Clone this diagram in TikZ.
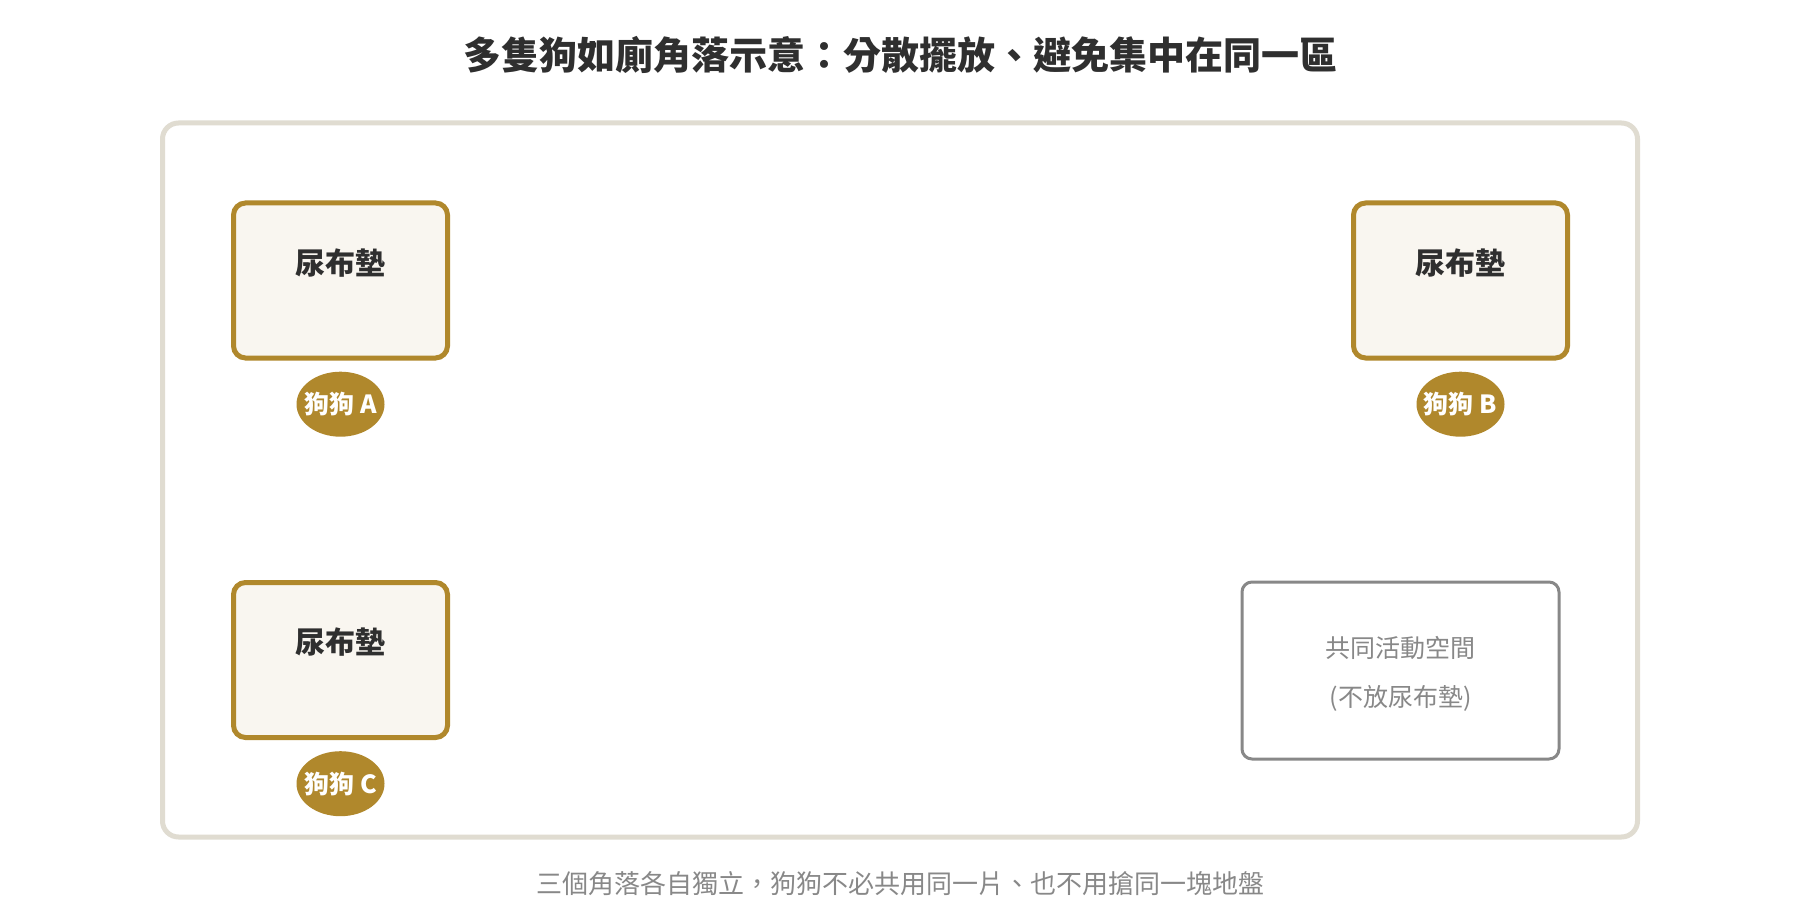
\documentclass[tikz,border=0pt]{standalone}
\usepackage{fontspec}
\setmainfont{Noto Sans CJK TC}
\usepackage{tikz}
\usepackage{xcolor}
\usetikzlibrary{positioning,shapes.geometric}

\definecolor{framegray}{HTML}{E0DCD1}
\definecolor{padgold}{HTML}{B0882C}
\definecolor{padfill}{HTML}{F9F6F0}
\definecolor{textdark}{HTML}{2F2F2F}
\definecolor{textgray}{HTML}{888888}

\begin{document}
\begin{tikzpicture}[x=1pt, y=-1pt,
    room/.style={draw=framegray, fill=white, line width=5pt, rounded corners=16pt, minimum width=1475pt, minimum height=714pt},
    pad/.style={draw=padgold, fill=padfill, line width=5pt, rounded corners=12pt, minimum width=214pt, minimum height=155pt},
    padtext/.style={font=\fontsize{30}{36}\selectfont\bfseries, text=textdark},
    dog/.style={ellipse, fill=padgold, minimum width=88pt, minimum height=65pt, inner sep=0pt, text=white, font=\fontsize{25}{30}\selectfont\bfseries},
    common/.style={draw=textgray, line width=3pt, rounded corners=10pt, minimum width=317pt, minimum height=177pt},
    commontext/.style={align=center, text=textgray, font=\fontsize{25}{49}\selectfont}]
    \fill[white] (0,0) rectangle (1800,920);
    \useasboundingbox (0,0) rectangle (1800,920);

    \node[font=\fontsize{38}{44}\selectfont\bfseries, text=textdark] (title) at (900,55) {多隻狗如廁角落示意：分散擺放、避免集中在同一區};
    \node[room] (room) at (900,480) {};

    % pads and dogs
    \foreach \n/\x/\y in {A/340.5/280.5, B/1460.5/280.5, C/340.5/660}{
        \node[pad] (pad\n) at (\x,\y) {};
        \node[padtext] (padlabel\n) at ([yshift=17.5pt]pad\n.center) {尿布墊};
        \node[dog, below=11pt of pad\n] (dog\n) {\makebox[0pt]{狗狗 \n}};
    }

    \node[common] (common) at (1400.5,670.5) {};
    \node[commontext] (commonlabel) at ([yshift=-3pt]common.center) {共同活動空間\\(不放尿布墊)};

    \node[font=\fontsize{26}{30}\selectfont, text=textgray] (caption) at (900,884) {三個角落各自獨立，狗狗不必共用同一片、也不用搶同一塊地盤};
\end{tikzpicture}
\end{document}
